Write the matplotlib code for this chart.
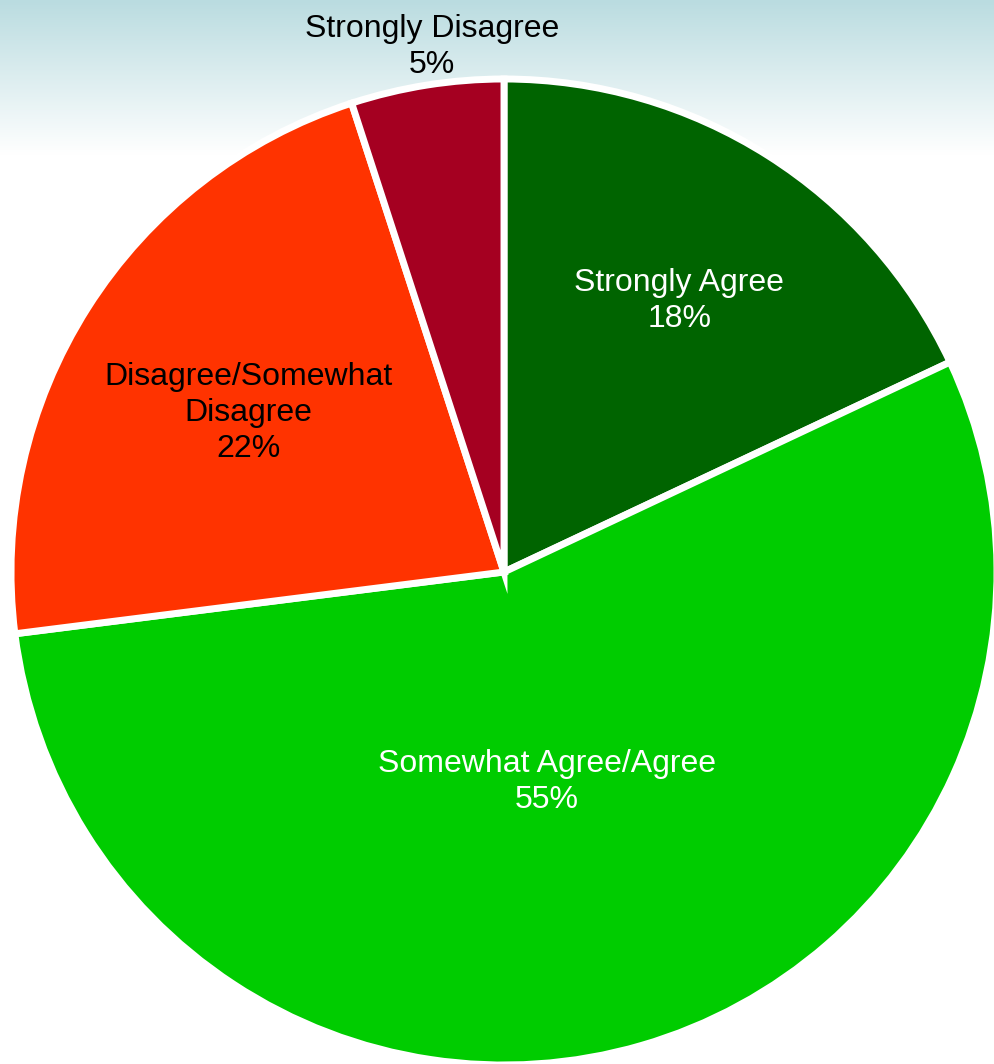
import numpy as np
import matplotlib.pyplot as plt
from matplotlib.colors import LinearSegmentedColormap

plt.rcParams['font.family'] = ['Liberation Sans', 'DejaVu Sans']

# survey responses
categories = ['Strongly Agree', 'Somewhat Agree/Agree',
              'Disagree/Somewhat\nDisagree', 'Strongly Disagree']
shares = [18, 55, 22, 5]
colors = ['#006400', '#00CC00', '#FF3300', '#A50021']
text_colors = ['white', 'white', 'black', 'black']
# label placement: fraction of radius, angular nudge in degrees
label_r = [0.655, 0.435, 0.61, 1.075]
label_dt = [-0.5, -4.6, 0.5, -1.2]

W, H = 995, 1064
fig = plt.figure(figsize=(W / 100, H / 100), dpi=100)
ax = fig.add_axes([0, 0, 1, 1])

# pale teal band fading to white at the top
grad = np.linspace(0, 1, 256).reshape(-1, 1)
cmap = LinearSegmentedColormap.from_list('band', ['#BADCE0', '#FFFFFF'])
ax.imshow(grad, cmap=cmap, extent=(0, W, H - 155, H), aspect='auto',
          origin='upper', zorder=0)

cx, cy, R = 504, H - 572, 493
wedges, _ = ax.pie(shares, colors=colors, startangle=90, counterclock=False,
                   center=(cx, cy), radius=R, frame=True,
                   wedgeprops=dict(edgecolor='white', linewidth=5))
ax.set_xlim(0, W)
ax.set_ylim(0, H)
ax.axis('off')

for w, cat, val, tc, r, dt in zip(wedges, categories, shares, text_colors,
                                  label_r, label_dt):
    mid = np.deg2rad((w.theta1 + w.theta2) / 2 + dt)
    x = cx + r * R * np.cos(mid)
    y = cy + r * R * np.sin(mid)
    ax.text(x, y, f'{cat}\n{val}%', ha='center', va='center', color=tc,
            fontsize=23, linespacing=1.25, zorder=5)

fig.savefig('out.png', dpi=100)
